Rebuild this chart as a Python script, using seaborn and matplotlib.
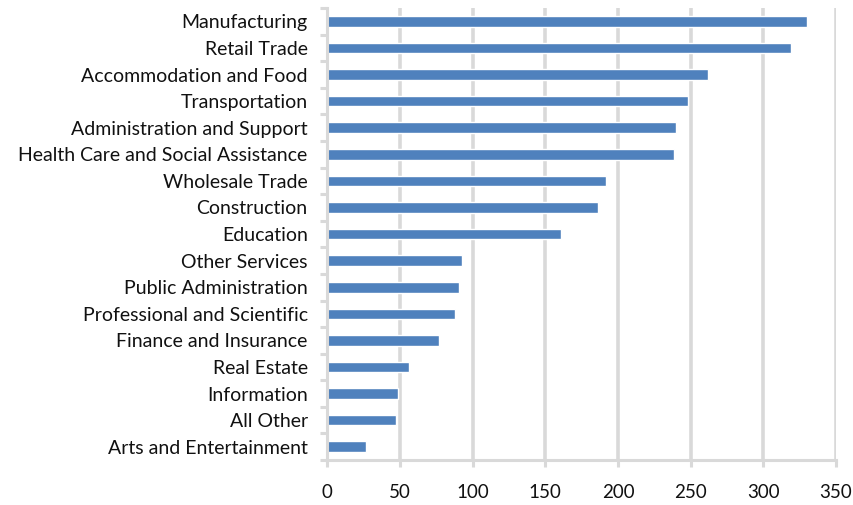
import numpy as np
import pandas as pd
import matplotlib
matplotlib.use("Agg")
import matplotlib.pyplot as plt
import seaborn as sns

# data
industries = [
    "Manufacturing", "Retail Trade", "Accommodation and Food", "Transportation",
    "Administration and Support", "Health Care and Social Assistance",
    "Wholesale Trade", "Construction", "Education", "Other Services",
    "Public Administration", "Professional and Scientific",
    "Finance and Insurance", "Real Estate", "Information", "All Other",
    "Arts and Entertainment",
]
values = [330, 319, 262, 248, 240, 238.5, 191.5, 186, 161, 93, 90.5, 88,
          77, 56, 49, 47.5, 27]
x_ticks = [0, 50, 100, 150, 200, 250, 300, 350]

df = pd.DataFrame({"industry": industries, "value": values})

sns.set_theme(style="white")
plt.rcParams["font.family"] = ["Lato", "DejaVu Sans"]

fig = plt.figure(figsize=(8.54, 5.05), dpi=100)
ax = fig.add_axes([0.383, 0.089, 0.596, 0.895])

grid_c = "#D9D9D9"
ax.set_axisbelow(True)
for t in x_ticks[1:]:
    ax.axvline(t, color=grid_c, lw=2.6, zorder=0)

sns.barplot(data=df, x="value", y="industry", color="#4F81BD", width=0.4,
            saturation=1, ax=ax, zorder=2)

ax.set_xlim(0, 350)
ax.set_ylim(len(industries) - 0.5, -0.5)
ax.set_xticks(x_ticks)
ax.set_xlabel("")
ax.set_ylabel("")

# category separators on the left axis
ax.set_yticks(np.arange(-0.5, len(industries) + 0.5, 1), minor=True)
ax.tick_params(axis="y", which="major", length=0, labelsize=14, pad=14,
               labelcolor="#111111")
ax.tick_params(axis="y", which="minor", left=True, length=5, width=2.2,
               color=grid_c)
ax.tick_params(axis="x", bottom=True, length=5, width=2.2, color=grid_c,
               labelsize=13.5, pad=12, labelcolor="#111111")

for s in ["top", "right"]:
    ax.spines[s].set_visible(False)
for s in ["left", "bottom"]:
    ax.spines[s].set_color(grid_c)
    ax.spines[s].set_linewidth(2.2)

fig.savefig("out.png", dpi=100)
